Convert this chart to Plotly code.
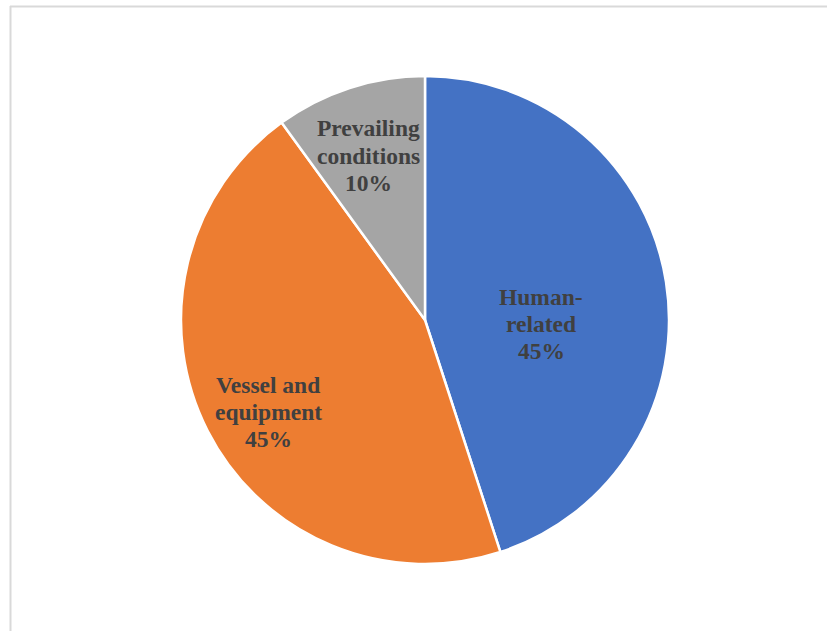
import plotly.graph_objects as go

categories = ["Human-related", "Vessel and equipment", "Prevailing conditions"]
values = [45, 45, 10]
label_lines = [["Human-", "related", "45%"],
               ["Vessel and", "equipment", "45%"],
               ["Prevailing", "conditions", "10%"]]
colors = ["#4472C4", "#ED7D31", "#A5A5A5"]

W, H = 827, 631
cx, cy, r = 425, 320, 244

fig = go.Figure(go.Pie(
    labels=categories, values=values, sort=False, direction="clockwise", rotation=0,
    marker=dict(colors=colors, line=dict(color="white", width=2.5)),
    textinfo="none", hoverinfo="label+percent", showlegend=False,
    domain=dict(x=[(cx - r) / W, (cx + r) / W], y=[1 - (cy + r) / H, 1 - (cy - r) / H]),
))

# label anchor positions (pixel centres of each text block line)
label_pos = [(541, [297, 324, 351]), (268, [385, 412, 439]), (368, [128, 156, 183])]
ann = []
for lines, (xc, ys) in zip(label_lines, label_pos):
    for t, yc in zip(lines, ys):
        ann.append(dict(x=xc / W, y=1 - yc / H, xref="paper", yref="paper", text="<b>" + t + "</b>",
                        showarrow=False, xanchor="center", yanchor="middle",
                        font=dict(family="Liberation Serif", size=23.5, color="#404040")))

shapes = [
    dict(type="line", xref="paper", yref="paper", x0=10.5 / W, x1=10.5 / W, y0=0, y1=1 - 6 / H,
         line=dict(color="#D9D9D9", width=2)),
    dict(type="line", xref="paper", yref="paper", x0=10 / W, x1=1, y0=1 - 6.5 / H, y1=1 - 6.5 / H,
         line=dict(color="#D9D9D9", width=2)),
]

fig.update_layout(width=W, height=H, margin=dict(l=0, r=0, t=0, b=0),
                  paper_bgcolor="white", plot_bgcolor="white",
                  annotations=ann, shapes=shapes)
fig.write_html("out.html", config={"displayModeBar": False},
               post_script="document.body.style.margin='0';document.body.style.overflow='hidden';")
